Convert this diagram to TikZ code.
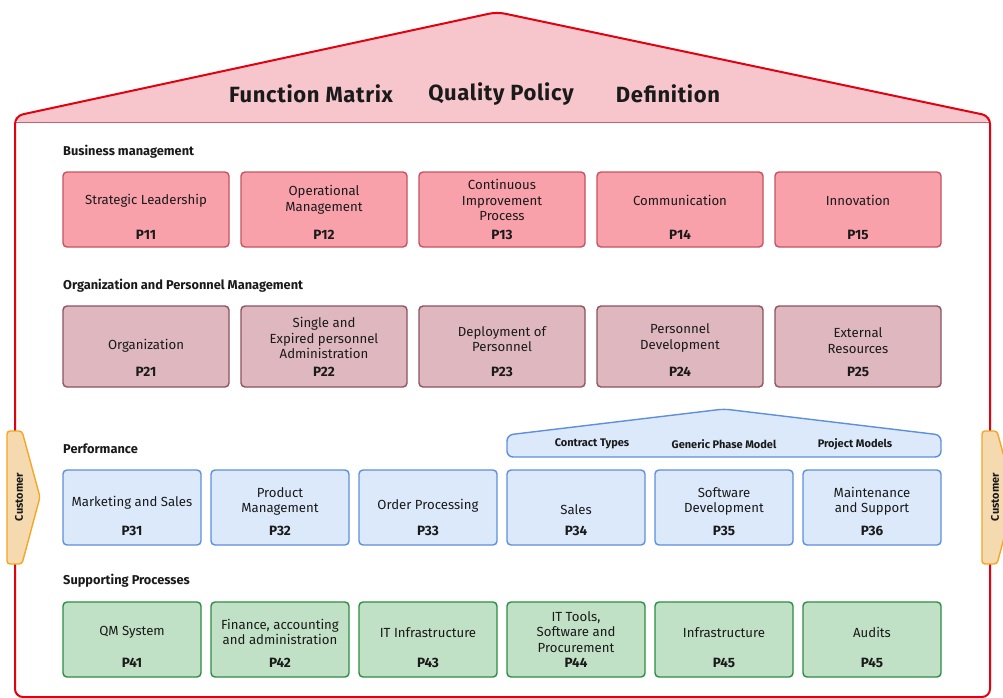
\documentclass[tikz,border=0pt]{standalone}
\usepackage{fontspec}
\setmainfont{Fira Sans}
\usepackage{tikz}
\usetikzlibrary{positioning,calc}

\definecolor{houseline}{HTML}{E3000F}
\definecolor{rooffill}{HTML}{F7C6CD}
\definecolor{roofband}{HTML}{C8606C}
\definecolor{bmfill}{HTML}{F9A1AB}
\definecolor{bmline}{HTML}{C5535F}
\definecolor{opfill}{HTML}{DEB8BE}
\definecolor{opline}{HTML}{8E5260}
\definecolor{pffill}{HTML}{DCE9FB}
\definecolor{pfline}{HTML}{5D8FDC}
\definecolor{spfill}{HTML}{C1E1C6}
\definecolor{spline}{HTML}{2C8C42}
\definecolor{custfill}{HTML}{F5D9AF}
\definecolor{custline}{HTML}{F5A623}
\definecolor{ink}{HTML}{1A1A1A}

\tikzset{
  procbox/.style={rounded corners=4pt, line width=1.4pt, inner sep=0pt, minimum height=75},
  bmbox/.style={procbox, fill=bmfill, draw=bmline, minimum width=166},
  opbox/.style={procbox, fill=opfill, draw=opline, minimum width=166, minimum height=81},
  pfbox/.style={procbox, fill=pffill, draw=pfline, minimum width=138},
  spbox/.style={procbox, fill=spfill, draw=spline, minimum width=138},
  boxtext/.style={align=center, inner sep=0pt, yshift=-1.5pt, text=ink, font=\fontsize{13.2}{15.5}\selectfont},
  pnum/.style={inner sep=0pt, yshift=-1pt, text=ink, font=\fontsize{13.5}{15}\selectfont\bfseries},
  seclabel/.style={anchor=west, inner sep=0pt, yshift=-1.5pt, text=ink, font=\fontsize{12.8}{15}\selectfont\bfseries},
  rooftitle/.style={inner sep=0pt, text=ink, font=\fontsize{22}{26}\selectfont\bfseries\addfontfeature{LetterSpace=3}},
  minititle/.style={inner sep=0pt, yshift=-1pt, text=ink, font=\fontsize{11}{13}\selectfont\bfseries},
  custtext/.style={rotate=90, inner sep=0pt, text=ink, font=\fontsize{11}{13}\selectfont\bfseries},
  custshape/.style={fill=custfill, draw=custline, line width=1.4pt, rounded corners=3pt}
}

\begin{document}
\begin{tikzpicture}[x=1pt,y=-1pt]
  \useasboundingbox (0,0) rectangle (1003,698);
  \fill[white] (0,0) rectangle (1003,698);

  % house
  \fill[rooffill, rounded corners=8pt] (15,123) -- (15,116) -- (497,12) -- (990,116) -- (990,123) -- cycle;
  \draw[roofband, line width=1pt] (15,123) -- (990,123);
  \draw[houseline, line width=2pt, rounded corners=8pt]
    (15,697) -- (15,116) -- (497,12) -- (990,116) -- (990,697) -- cycle;

  \node[rooftitle] (fmatrix) at (311,94) {Function Matrix};
  \node[rooftitle] (qpolicy) at (501,94) {Quality Policy};
  \node[rooftitle] (definition) at (668,94) {Definition};

  % Business management
  \node[seclabel] (secbm) at (63,150) {Business management};
  \node[bmbox] (p11) at (146,209.5) {};
  \node[bmbox] (p12) at (324,209.5) {};
  \node[bmbox] (p13) at (502,209.5) {};
  \node[bmbox] (p14) at (680,209.5) {};
  \node[bmbox] (p15) at (858,209.5) {};
  \node[boxtext] (p11t) at (146,199) {Strategic Leadership};
  \node[boxtext] (p12t) at (324,198.5) {Operational\\Management};
  \node[boxtext] (p13t) at (502,198.5) {Continuous\\Improvement\\Process};
  \node[boxtext] (p14t) at (680,199) {Communication};
  \node[boxtext] (p15t) at (858,199) {Innovation};
  \node[pnum] (p11n) at (146,234) {P11};
  \node[pnum] (p12n) at (324,234) {P12};
  \node[pnum] (p13n) at (502,234) {P13};
  \node[pnum] (p14n) at (680,234) {P14};
  \node[pnum] (p15n) at (858,234) {P15};

  % Organization and Personnel Management
  \node[seclabel] (secop) at (63,284) {Organization and Personnel Management};
  \node[opbox] (p21) at (146,346.5) {};
  \node[opbox] (p22) at (324,346.5) {};
  \node[opbox] (p23) at (502,346.5) {};
  \node[opbox] (p24) at (680,346.5) {};
  \node[opbox] (p25) at (858,346.5) {};
  \node[boxtext] (p21t) at (146,344) {Organization};
  \node[boxtext] (p22t) at (324,336.5) {Single and\\Expired personnel\\Administration};
  \node[boxtext] (p23t) at (502,337.5) {Deployment of\\Personnel};
  \node[boxtext] (p24t) at (680,336.5) {Personnel\\Development};
  \node[boxtext] (p25t) at (858,339) {External\\Resources};
  \node[pnum] (p21n) at (146,371) {P21};
  \node[pnum] (p22n) at (324,371) {P22};
  \node[pnum] (p23n) at (502,371) {P23};
  \node[pnum] (p24n) at (680,371) {P24};
  \node[pnum] (p25n) at (858,371) {P25};

  % Performance
  \node[seclabel] (secpf) at (63,447) {Performance};
  \draw[fill=pffill, draw=pfline, line width=1.4pt, rounded corners=6pt]
    (507,457) -- (507,435) -- (724,409) -- (941,435) -- (941,457) -- cycle;
  \node[minititle] (ctypes) at (592,443) {Contract Types};
  \node[minititle] (gphase) at (724,443) {Generic Phase Model};
  \node[minititle] (pmodels) at (855,443) {Project Models};
  \node[pfbox] (p31) at (132,507.5) {};
  \node[pfbox] (p32) at (280,507.5) {};
  \node[pfbox] (p33) at (428,507.5) {};
  \node[pfbox] (p34) at (576,507.5) {};
  \node[pfbox] (p35) at (724,507.5) {};
  \node[pfbox] (p36) at (872,507.5) {};
  \node[boxtext] (p31t) at (132,501) {Marketing and Sales};
  \node[boxtext] (p32t) at (280,500) {Product\\Management};
  \node[boxtext] (p33t) at (428,504) {Order Processing};
  \node[boxtext] (p34t) at (576,508) {Sales};
  \node[boxtext] (p35t) at (724,500) {Software\\Development};
  \node[boxtext] (p36t) at (872,500) {Maintenance\\and Support};
  \node[pnum] (p31n) at (132,530) {P31};
  \node[pnum] (p32n) at (280,530) {P32};
  \node[pnum] (p33n) at (428,530) {P33};
  \node[pnum] (p34n) at (576,530) {P34};
  \node[pnum] (p35n) at (724,530) {P35};
  \node[pnum] (p36n) at (872,530) {P36};

  % Supporting Processes
  \node[seclabel] (secsp) at (63,579) {Supporting Processes};
  \node[spbox] (p41) at (132,639.5) {};
  \node[spbox] (p42) at (280,639.5) {};
  \node[spbox] (p43) at (428,639.5) {};
  \node[spbox] (p44) at (576,639.5) {};
  \node[spbox] (p45) at (724,639.5) {};
  \node[spbox] (p46) at (872,639.5) {};
  \node[boxtext] (p41t) at (132,631) {QM System};
  \node[boxtext] (p42t) at (280,630.5) {Finance, accounting\\and administration};
  \node[boxtext] (p43t) at (428,631) {IT Infrastructure};
  \node[boxtext] (p44t) at (576,630.5) {IT Tools,\\Software and\\Procurement};
  \node[boxtext] (p45t) at (724,631) {Infrastructure};
  \node[boxtext] (p46t) at (872,631) {Audits};
  \node[pnum] (p41n) at (132,662) {P41};
  \node[pnum] (p42n) at (280,662) {P42};
  \node[pnum] (p43n) at (428,662) {P43};
  \node[pnum] (p44n) at (576,662) {P44};
  \node[pnum] (p45n) at (724,662) {P45};
  \node[pnum] (p46n) at (872,662) {P45};

  % customer
  \draw[custshape] (7,431) -- (22,431) -- (40,497) -- (22,564) -- (7,564) -- cycle;
  \node[custtext] (custleft) at (19,497) {Customer};
  \draw[custshape] (982,431) -- (997,431) -- (1015,497) -- (997,564) -- (982,564) -- cycle;
  \node[custtext] (custright) at (995,497) {Customer};
\end{tikzpicture}
\end{document}
